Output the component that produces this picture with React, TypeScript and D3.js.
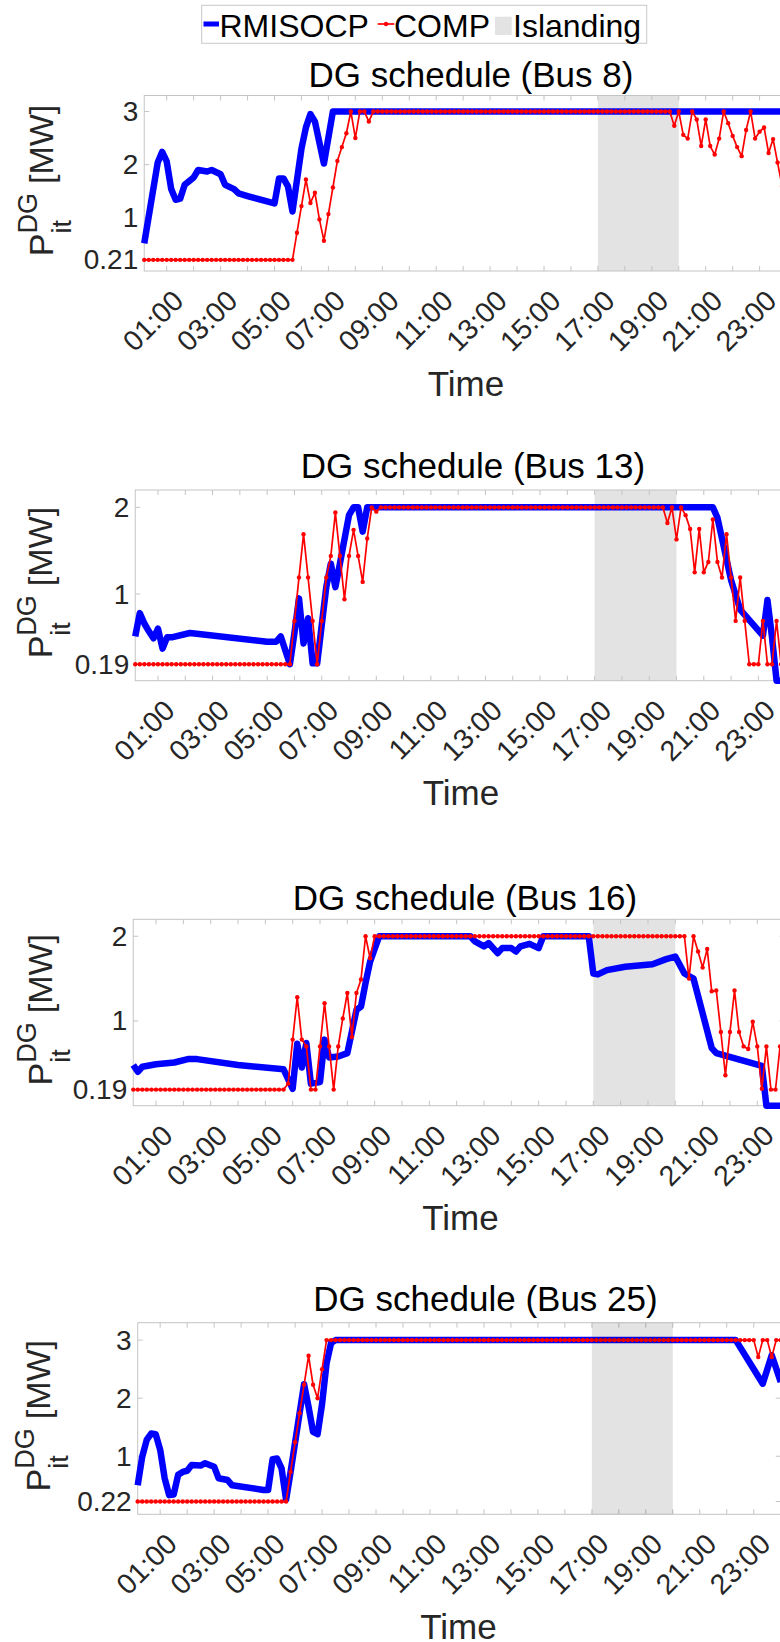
import React from 'react';
import * as d3 from 'd3';

// ---------- data ----------
// time of each sample in minutes after midnight (10-minute resolution)
const timeMinutes: number[] = d3.range(10, 1441, 10);

// tick labels on the time axis (every second hour)
const xTickHours: number[] = [1, 3, 5, 7, 9, 11, 13, 15, 17, 19, 21, 23];
const xTickLabels: string[] = ['01:00', '03:00', '05:00', '07:00', '09:00', '11:00', '13:00', '15:00', '17:00', '19:00', '21:00', '23:00'];

// islanding period (hours)
const islanding: number[] = [17, 20];

const titles: string[] = ['DG schedule (Bus 8)', 'DG schedule (Bus 13)', 'DG schedule (Bus 16)', 'DG schedule (Bus 25)'];
const yTicks8: number[] = [0.21, 1, 2, 3];
const yTicks13: number[] = [0.19, 1, 2];
const yTicks16: number[] = [0.19, 1, 2];
const yTicks25: number[] = [0.22, 1, 2, 3];

// COMP (red) – one value per sample
const comp8: number[] = [
  0.21, 0.21, 0.21, 0.21, 0.21, 0.21, 0.21, 0.21, 0.21, 0.21, 0.21, 0.21, 0.21, 0.21, 0.21, 0.21, 0.21,
  0.21, 0.21, 0.21, 0.21, 0.21, 0.21, 0.21, 0.21, 0.21, 0.21, 0.21, 0.21, 0.21, 0.21, 0.21, 0.21, 0.21,
  0.72, 1.22, 1.72, 1.28, 1.47, 0.97, 0.57, 1.07, 1.57, 2.07, 2.33, 2.59, 3, 2.5, 3, 3, 2.81, 3,
  3, 3, 3, 3, 3, 3, 3, 3, 3, 3, 3, 3, 3, 3, 3, 3, 3, 3, 3, 3, 3, 3,
  3, 3, 3, 3, 3, 3, 3, 3, 3, 3, 3, 3, 3, 3, 3, 3, 3, 3, 3, 3, 3, 3,
  3, 3, 3, 3, 3, 3, 3, 3, 3, 3, 3, 3, 3, 3, 3, 3, 3, 3, 3, 3, 3, 3,
  2.73, 3, 2.56, 2.49, 3, 2.85, 2.35, 2.85, 2.35, 2.19, 2.49, 3, 2.78, 2.54, 2.33, 2.16, 2.65, 3,
  2.49, 2.62, 2.7, 2.22, 2.48, 2.04, 1.6, 1.5,
];
const comp13: number[] = [
  0.19, 0.19, 0.19, 0.19, 0.19, 0.19, 0.19, 0.19, 0.19, 0.19, 0.19, 0.19, 0.19, 0.19, 0.19, 0.19, 0.19, 0.19,
  0.19, 0.19, 0.19, 0.19, 0.19, 0.19, 0.19, 0.19, 0.19, 0.19, 0.19, 0.19, 0.19, 0.19, 0.19, 0.19, 0.19,
  0.69, 1.19, 1.69, 1.19, 0.69, 0.19, 0.69, 1.19, 1.44, 1.94, 1.44, 0.94, 1.44, 1.74, 1.44, 1.14, 1.64, 2, 1.95,
  2, 2, 2, 2, 2, 2, 2, 2, 2, 2, 2, 2, 2, 2, 2, 2, 2, 2, 2, 2, 2,
  2, 2, 2, 2, 2, 2, 2, 2, 2, 2, 2, 2, 2, 2, 2, 2, 2, 2, 2, 2, 2,
  2, 2, 2, 2, 2, 2, 2, 2, 2, 2, 2, 2, 2, 2, 2, 2, 2, 2, 2, 2, 2,
  1.82, 2, 1.63, 2, 1.91, 1.75, 1.25, 1.75, 1.25, 1.37, 1.86, 1.37, 1.19, 1.69, 1.19, 0.69, 1.19, 0.69,
  0.19, 0.19, 0.19, 0.69, 0.19, 0.19, 0.69, 0.19, 0.19,
];
const comp16: number[] = [
  0.19, 0.19, 0.19, 0.19, 0.19, 0.19, 0.19, 0.19, 0.19, 0.19, 0.19, 0.19, 0.19, 0.19, 0.19, 0.19, 0.19,
  0.19, 0.19, 0.19, 0.19, 0.19, 0.19, 0.19, 0.19, 0.19, 0.19, 0.19, 0.19, 0.19, 0.19, 0.19, 0.19, 0.19,
  0.26, 0.78, 1.28, 0.78, 0.7, 0.19, 0.19, 0.7, 1.21, 0.7, 0.19, 0.7, 1.03, 1.33, 0.81, 1.33, 1.49, 2, 1.74, 2,
  2, 2, 2, 2, 2, 2, 2, 2, 2, 2, 2, 2, 2, 2, 2, 2, 2,
  2, 2, 2, 2, 2, 2, 2, 2, 2, 2, 2, 2, 2, 2, 2, 2, 2,
  2, 2, 2, 2, 2, 2, 2, 2, 2, 2, 2, 2, 2, 2, 2, 2, 2,
  2, 2, 2, 2, 2, 2, 2, 2, 2, 2, 2, 2, 2, 2, 2, 2, 2,
  1.5, 2, 1.82, 1.63, 1.85, 1.35, 1.36, 0.87, 0.36, 0.87, 1.36, 0.87, 0.7, 0.67, 0.99, 0.7, 0.2, 0.7,
  0.19, 0.19, 0.7, 0.7,
];
const comp25: number[] = [
  0.22, 0.22, 0.22, 0.22, 0.22, 0.22, 0.22, 0.22, 0.22, 0.22, 0.22, 0.22, 0.22, 0.22, 0.22, 0.22, 0.22,
  0.22, 0.22, 0.22, 0.22, 0.22, 0.22, 0.22, 0.22, 0.22, 0.22, 0.22, 0.22, 0.22, 0.22, 0.22, 0.22, 0.22,
  0.73, 1.24, 1.74, 2.23, 2.73, 2.23, 2, 2.5,
  3, 3, 3, 3, 3, 3, 3, 3, 3, 3, 3, 3, 3, 3, 3, 3, 3, 3, 3, 3, 3, 3, 3, 3,
  3, 3, 3, 3, 3, 3, 3, 3, 3, 3, 3, 3, 3, 3, 3, 3, 3, 3, 3, 3, 3, 3, 3, 3,
  3, 3, 3, 3, 3, 3, 3, 3, 3, 3, 3, 3, 3, 3, 3, 3, 3, 3, 3, 3, 3, 3, 3, 3,
  3, 3, 3, 3, 3, 3, 3, 3, 3, 3, 3, 3, 3, 3, 3, 3, 3, 3, 3, 3, 3, 3, 3, 3,
  2.71, 3, 3, 2.71, 3, 3,
];

// RMISOCP (blue) – [sample index (1..144), value] at the visible breakpoints
const rmi8: [number, number][] = [
  [1, 0.52], [4, 2.04], [5, 2.24], [6, 2.06], [7, 1.54], [8, 1.34], [9, 1.36], [10, 1.62], [12, 1.76],
  [13, 1.9], [15, 1.87], [16, 1.9], [18, 1.82], [19, 1.62], [21, 1.54], [22, 1.46], [24, 1.41], [30, 1.27],
  [31, 1.74], [32, 1.74], [33, 1.59], [34, 1.12], [36, 2.3], [37, 2.7], [38, 2.95], [39, 2.81], [41, 2.02],
  [43, 3], [144, 3],
];
const rmi13: [number, number][] = [
  [1, 0.51], [2, 0.78], [3, 0.66], [4, 0.57], [5, 0.49], [6, 0.6], [7, 0.37], [8, 0.5], [9, 0.5], [13, 0.55],
  [15, 0.54], [30, 0.45], [32, 0.45], [33, 0.51], [35, 0.19], [36, 0.55], [37, 0.95], [38, 0.43], [39, 0.72],
  [40, 0.2], [41, 0.2], [43, 1.08], [44, 1.35], [45, 1.08], [46, 1.35], [48, 1.91], [49, 2], [50, 2], [51, 1.72],
  [52, 2], [128, 2], [129, 1.88], [132, 1.16], [134, 0.82], [139, 0.52], [140, 0.93], [141, 0.5], [142, 0],
  [144, 0],
];
const rmi16: [number, number][] = [
  [1, 0.48], [2, 0.4], [3, 0.46], [6, 0.49], [10, 0.51], [13, 0.55], [15, 0.55], [24, 0.48], [34, 0.43],
  [36, 0.2], [37, 0.73], [38, 0.45], [39, 0.74], [40, 0.26], [42, 0.28], [43, 0.78], [44, 0.57], [46, 0.58],
  [48, 0.62], [50, 1.13], [51, 1.17], [52, 1.45], [53, 1.7], [55, 2], [75, 2], [76, 1.94], [78, 1.88],
  [79, 1.92], [81, 1.8], [82, 1.86], [84, 1.86], [85, 1.82], [86, 1.88], [88, 1.91], [90, 1.86], [91, 2],
  [101, 2], [102, 1.56], [103, 1.55], [105, 1.6], [109, 1.64], [115, 1.67], [118, 1.73], [120, 1.76],
  [122, 1.56], [124, 1.5], [128, 0.68], [129, 0.62], [139, 0.47], [140, 0], [144, 0],
];
const rmi25: [number, number][] = [
  [1, 0.5], [2, 0.99], [3, 1.28], [4, 1.39], [5, 1.38], [6, 1.11], [7, 0.62], [8, 0.33], [9, 0.34], [10, 0.68],
  [11, 0.73], [12, 0.75], [13, 0.85], [15, 0.84], [16, 0.88], [18, 0.82], [19, 0.62], [21, 0.59], [22, 0.5],
  [29, 0.42], [30, 0.42], [31, 0.95], [32, 0.96], [33, 0.79], [34, 0.25], [35, 0.73], [37, 1.74], [38, 2.24],
  [39, 1.85], [40, 1.42], [41, 1.38], [42, 1.9], [43, 2.6], [44, 2.95], [45, 3], [134, 3], [140, 2.25],
  [142, 2.74], [144, 2.28],
];

// ---------- layout ----------
type Layout = {
  x0: number; hourPx: number; top: number; bottom: number; ymax: number;
  titleX: number; titleY: number; timeX: number; ylabX: number; shadeOnTop: boolean;
};
const layouts: Layout[] = [
  { x0: 139.75, hourPx: 26.95, top: 95.5, bottom: 271, ymax: 3.3, titleX: 471, titleY: 87, timeX: 466, ylabX: 53, shadeOnTop: false },
  { x0: 130.7, hourPx: 27.29, top: 490, bottom: 680.7, ymax: 2.2, titleX: 473, titleY: 477.5, timeX: 461, ylabX: 52, shadeOnTop: false },
  { x0: 128.7, hourPx: 27.33, top: 919.3, bottom: 1105.7, ymax: 2.2, titleX: 465, titleY: 910, timeX: 460.5, ylabX: 52, shadeOnTop: false },
  { x0: 133.2, hourPx: 26.98, top: 1322.7, bottom: 1514.3, ymax: 3.3, titleX: 485.5, titleY: 1310.5, timeX: 458.5, ylabX: 50, shadeOnTop: true },
];

const FONT = '"Liberation Sans", Arial, Helvetica, sans-serif';
const AXIS = '#c4c4c4';
const TXT = '#262626';
const SHADE = '#e3e3e3';
const BLUE = '#0000ff';
const RED = '#ff0000';

type PanelProps = { L: Layout; title: string; yTicks: number[]; comp: number[]; rmi: [number, number][] };

function Panel({ L, title, yTicks, comp, rmi }: PanelProps) {
  const left = L.x0 + L.hourPx / 6;
  const right = L.x0 + 24 * L.hourPx;
  const x = d3.scaleLinear().domain([10, 1440]).range([left, right]);
  const y = d3.scaleLinear().domain([0, L.ymax]).range([L.bottom, L.top]);
  const redPts: [number, number][] = timeMinutes.map((t, i) => [t, comp[i]]);
  const bluePts: [number, number][] = rmi.map(([k, v]) => [timeMinutes[k - 1], v]);
  const line = d3.line<[number, number]>().x((d) => x(d[0])).y((d) => y(d[1]));
  const hourTicks = d3.range(1, 25);
  const tl = 5;
  const cy = (L.top + L.bottom) / 2 - 2;
  const ylabLen = 150;
  const sx0 = x(islanding[0] * 60);
  const sx1 = x(islanding[1] * 60);
  return (
    <g>
      {/* plot background and islanding shade */}
      <rect x={left} y={L.top} width={right - left} height={L.bottom - L.top} fill="#ffffff" />
      {!L.shadeOnTop && <rect x={sx0} y={L.top} width={sx1 - sx0} height={L.bottom - L.top} fill={SHADE} />}
      {/* ticks */}
      {hourTicks.map((h) => (
        <g key={h}>
          <line x1={x(h * 60)} x2={x(h * 60)} y1={L.bottom} y2={L.bottom - tl} stroke={AXIS} strokeWidth={1} />
          <line x1={x(h * 60)} x2={x(h * 60)} y1={L.top} y2={L.top + tl} stroke={AXIS} strokeWidth={1} />
        </g>
      ))}
      {yTicks.map((v) => (
        <g key={v}>
          <line x1={left} x2={left + tl} y1={y(v)} y2={y(v)} stroke={AXIS} strokeWidth={1} />
          <line x1={right} x2={right - tl} y1={y(v)} y2={y(v)} stroke={AXIS} strokeWidth={1} />
        </g>
      ))}
      <rect x={left} y={L.top} width={right - left} height={L.bottom - L.top} fill="none" stroke={AXIS} strokeWidth={1} />
      {/* series */}
      <path d={line(bluePts) || ''} fill="none" stroke={BLUE} strokeWidth={6.5} strokeLinejoin="round" />
      <path d={line(redPts) || ''} fill="none" stroke={RED} strokeWidth={1.7} strokeLinejoin="round" />
      {redPts.map((d, i) => (
        <circle key={i} cx={x(d[0])} cy={y(d[1])} r={2.2} fill={RED} />
      ))}
      {L.shadeOnTop && <rect x={sx0} y={L.top} width={sx1 - sx0} height={L.bottom - L.top} fill="#000" fillOpacity={0.11} />}
      {/* y tick labels */}
      {yTicks.map((v) => (
        <text key={v} x={left - 6} y={y(v)} textAnchor="end" dominantBaseline="central" fontSize={28} fill={TXT} fontFamily={FONT}>
          {String(v)}
        </text>
      ))}
      {/* x tick labels */}
      {xTickHours.map((h, i) => (
        <text
          key={h}
          transform={`translate(${x(h * 60) + 18.5},${L.bottom + 31.5}) rotate(-45)`}
          textAnchor="end"
          fontSize={28.5}
          fill={TXT}
          fontFamily={FONT}
        >
          {xTickLabels[i]}
        </text>
      ))}
      {/* axis labels and title */}
      <text x={L.timeX} y={L.bottom + 124.5} textAnchor="middle" fontSize={35} fill={TXT} fontFamily={FONT}>Time</text>
      <text x={L.titleX} y={L.titleY} textAnchor="middle" fontSize={35} fill="#000" fontFamily={FONT}>{title}</text>
      <g transform={`translate(${L.ylabX},${cy}) rotate(-90)`} fill={TXT} fontFamily={FONT}>
        <text x={-ylabLen / 2} y={0} fontSize={34}>P</text>
        <text x={-ylabLen / 2 + 22.7} y={-16} fontSize={27}>DG</text>
        <text x={-ylabLen / 2 + 22.7} y={18} fontSize={27}>it</text>
        <text x={-ylabLen / 2 + 22.7 + 40.5 + 9} y={0} fontSize={34}>[MW]</text>
      </g>
    </g>
  );
}

function Legend() {
  return (
    <g fontFamily={FONT}>
      <rect x={201.7} y={5.3} width={445} height={38} fill="#fff" stroke="#c8c8c8" strokeWidth={1} />
      <line x1={203.5} x2={219} y1={24} y2={24} stroke={BLUE} strokeWidth={5} />
      <text x={219.5} y={37.3} fontSize={32} fill="#000">RMISOCP</text>
      <line x1={377.7} x2={394.3} y1={24} y2={24} stroke={RED} strokeWidth={1.7} />
      <circle cx={386} cy={24} r={2.2} fill={RED} />
      <text x={394} y={37.3} fontSize={32} fill="#000">COMP</text>
      <rect x={495} y={16.7} width={16.7} height={18.3} fill={SHADE} />
      <text x={513} y={37.3} fontSize={32} fill="#000">Islanding</text>
    </g>
  );
}

export default function App() {
  const comps = [comp8, comp13, comp16, comp25];
  const rmis = [rmi8, rmi13, rmi16, rmi25];
  const ticks = [yTicks8, yTicks13, yTicks16, yTicks25];
  return (
    <svg
      width={780}
      height={1642}
      style={{ position: 'absolute', left: 0, top: 0, background: '#fff' }}
      xmlns="http://www.w3.org/2000/svg"
    >
      <rect x={0} y={0} width={780} height={1642} fill="#fff" />
      {layouts.map((L, i) => (
        <Panel key={i} L={L} title={titles[i]} yTicks={ticks[i]} comp={comps[i]} rmi={rmis[i]} />
      ))}
      <Legend />
    </svg>
  );
}
